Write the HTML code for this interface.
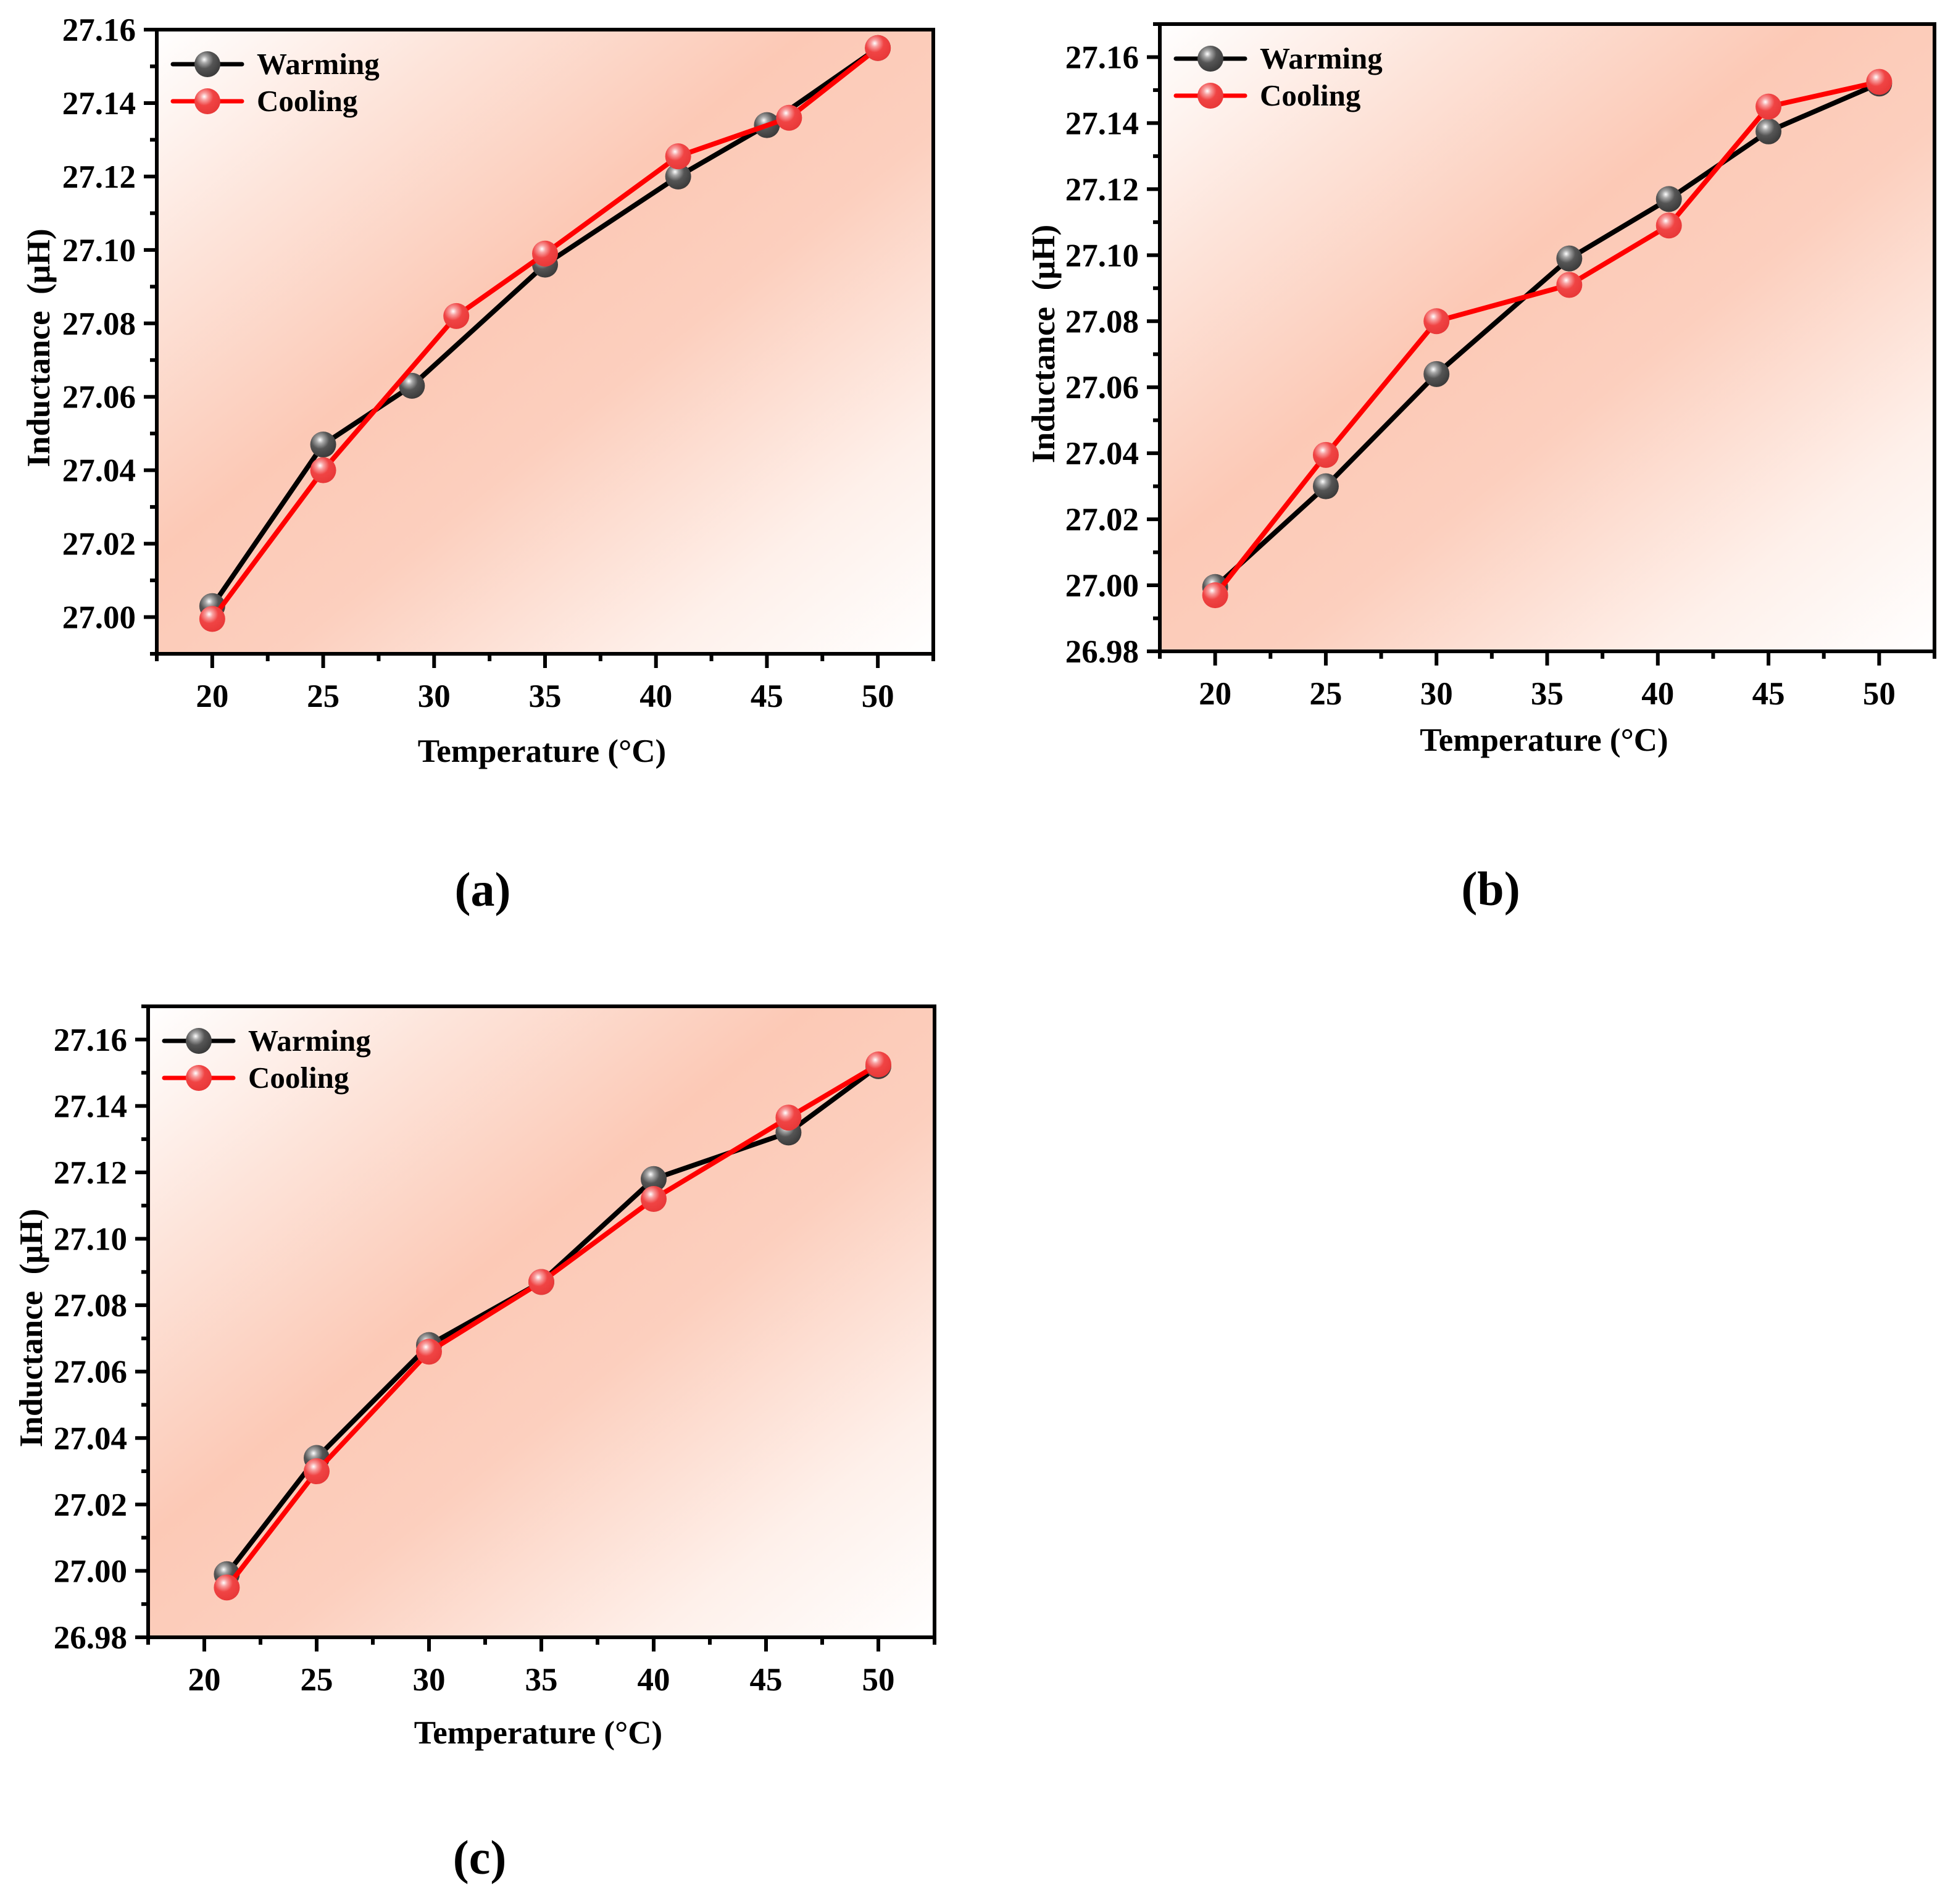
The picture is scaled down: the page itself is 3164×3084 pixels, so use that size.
<!DOCTYPE html>
<html>
<head>
<meta charset="utf-8">
<style>
  html,body{margin:0;padding:0;background:#fff;}
  svg{display:block;}
  text{font-family:"Liberation Serif","DejaVu Serif",serif;font-weight:bold;fill:#000;}
</style>
</head>
<body>
<svg id="fig" width="3164" height="3084" viewBox="0 0 3164 3084" xmlns="http://www.w3.org/2000/svg">
  <defs>
    <linearGradient id="bg" x1="0" y1="0" x2="1" y2="1">
      <stop offset="0" stop-color="#ffffff"/>
      <stop offset="0.2" stop-color="#fde4da"/>
      <stop offset="0.42" stop-color="#fcc9b6"/>
      <stop offset="0.58" stop-color="#fccfbe"/>
      <stop offset="0.82" stop-color="#fef0ea"/>
      <stop offset="1" stop-color="#ffffff"/>
    </linearGradient>
    <radialGradient id="gBlack" cx="0.38" cy="0.32" r="0.7">
      <stop offset="0" stop-color="#ffffff"/>
      <stop offset="0.2" stop-color="#a8a8a8"/>
      <stop offset="0.5" stop-color="#555555"/>
      <stop offset="1" stop-color="#3a3a3a"/>
    </radialGradient>
    <radialGradient id="gRed" cx="0.38" cy="0.32" r="0.7">
      <stop offset="0" stop-color="#ffffff"/>
      <stop offset="0.2" stop-color="#f8a0a0"/>
      <stop offset="0.5" stop-color="#f04444"/>
      <stop offset="1" stop-color="#e83838"/>
    </radialGradient>
  </defs>
</svg>
<script>
// ---- data (panel a) ----
const aWarmX = [20, 25, 29, 35, 41, 45, 50];
const aWarmY = [27.003, 27.047, 27.063, 27.096, 27.120, 27.134, 27.155];
const aCoolX = [20, 25, 31, 35, 41, 46, 50];
const aCoolY = [26.9995, 27.040, 27.082, 27.099, 27.1255, 27.136, 27.155];
// ---- data (panel b) ----
const bWarmX = [20, 25, 30, 36, 40.5, 45, 50];
const bWarmY = [26.9995, 27.030, 27.064, 27.099, 27.117, 27.1375, 27.152];
const bCoolX = [20, 25, 30, 36, 40.5, 45, 50];
const bCoolY = [26.997, 27.0395, 27.080, 27.091, 27.109, 27.145, 27.1525];
// ---- data (panel c) ----
const cWarmX = [21, 25, 30, 35, 40, 46, 50];
const cWarmY = [26.999, 27.034, 27.068, 27.087, 27.118, 27.132, 27.152];
const cCoolX = [21, 25, 30, 35, 40, 46, 50];
const cCoolY = [26.995, 27.030, 27.066, 27.087, 27.112, 27.1365, 27.1525];
// ---- ticks ----
const xTickVals = [20, 25, 30, 35, 40, 45, 50];
const yTickValsA = [27.00, 27.02, 27.04, 27.06, 27.08, 27.10, 27.12, 27.14, 27.16];
const yTickValsBC = [26.98, 27.00, 27.02, 27.04, 27.06, 27.08, 27.10, 27.12, 27.14, 27.16];
const xDomain = [17.5, 52.5];
const yDomainA = [26.99, 27.16];
const yDomainBC = [26.98, 27.17];
const seriesNames = ["Warming", "Cooling"];

const NS = "http://www.w3.org/2000/svg";
const svg = document.getElementById("fig");
function mk(tag, attrs, parent) {
  const e = document.createElementNS(NS, tag);
  for (const k in attrs) e.setAttribute(k, attrs[k]);
  (parent || svg).appendChild(e);
  return e;
}

const panels = [
  {id:"a", L:254, R:1512, T:48, B:1059, yd:yDomainA, yt:yTickValsA,
   wx:aWarmX, wy:aWarmY, cx:aCoolX, cy:aCoolY,
   titleY:1234, yTitleX:62, label:[782,1441]},
  {id:"b", L:1879, R:3134, T:39, B:1055, yd:yDomainBC, yt:yTickValsBC,
   wx:bWarmX, wy:bWarmY, cx:bCoolX, cy:bCoolY,
   titleY:1216, yTitleX:1690, label:[2415,1440]},
  {id:"c", L:240, R:1514, T:1630, B:2652, yd:yDomainBC, yt:yTickValsBC,
   wx:cWarmX, wy:cWarmY, cx:cCoolX, cy:cCoolY,
   titleY:2824, yTitleX:50, label:[777,3009]}
];

panels.forEach(p => {
  const g = mk("g", {});
  
  
  const xs = v => p.L + (v - xDomain[0]) / (xDomain[1] - xDomain[0]) * (p.R - p.L);
  const ys = v => p.B - (v - p.yd[0]) / (p.yd[1] - p.yd[0]) * (p.B - p.T);

  const bg = mk("rect", {x:p.L, y:p.T, width:p.R-p.L, height:p.B-p.T, fill:"url(#bg)"}, g);
  
  

  const yAxis = mk("g", {}, g);
  
  
  for (let v = p.yd[0]; v <= p.yd[1] + 1e-9; v += 0.01) {
    const y = ys(v);
    const isMajor = p.yt.some(t => Math.abs(t - v) < 1e-6);
    mk("line", {x1:p.L - (isMajor ? 21 : 11), x2:p.L, y1:y, y2:y, stroke:"#000", "stroke-width":6}, yAxis);
  }
  p.yt.forEach(v => {
    const t = mk("text", {x:p.L - 34, y:ys(v) + 18, "text-anchor":"end", "font-size":53}, yAxis);
    t.textContent = v.toFixed(2);
    
    
  });
  const xAxis = mk("g", {}, g);
  
  
  for (let v = xDomain[0]; v <= xDomain[1] + 1e-9; v += 2.5) {
    const x = xs(v);
    const isMajor = xTickVals.some(t => Math.abs(t - v) < 1e-6);
    mk("line", {x1:x, x2:x, y1:p.B, y2:p.B + (isMajor ? 23 : 12), stroke:"#000", "stroke-width":6}, xAxis);
  }
  xTickVals.forEach(v => {
    const t = mk("text", {x:xs(v), y:p.B + 86, "text-anchor":"middle", "font-size":53}, xAxis);
    t.textContent = String(v);
    
    
  });

  const fr = mk("rect", {x:p.L, y:p.T, width:p.R-p.L, height:p.B-p.T, fill:"none", stroke:"#000", "stroke-width":6}, g);
  
  

  const xt = mk("text", {x:(p.L+p.R)/2 - 5, y:p.titleY, "text-anchor":"middle", "font-size":53}, g);
  xt.textContent = "Temperature (\u00B0C)";
  
  
  const ymid = (p.T + p.B) / 2 + 10;
  const yt = mk("text", {x:p.yTitleX, y:ymid, "text-anchor":"middle", "font-size":53,
    transform:"rotate(-90 " + p.yTitleX + " " + ymid + ")", dy:18}, g);
  yt.textContent = "Inductance\u00A0\u00A0(\u03BCH)";
  
  

  const series = [
    {xv:p.wx, yv:p.wy, color:"#000", grad:"url(#gBlack)", name:"warming"},
    {xv:p.cx, yv:p.cy, color:"#ff0000", grad:"url(#gRed)", name:"cooling"}
  ];
  series.forEach(s => {
    const sg = mk("g", {}, g);
    
    
    const pts = s.xv.map((x, i) => xs(x) + "," + ys(s.yv[i])).join(" ");
    const pl = mk("polyline", {points:pts, fill:"none", stroke:s.color, "stroke-width":8, "stroke-linejoin":"round"}, sg);
    
    
    s.xv.forEach((x, i) => {
      const c = mk("circle", {cx:xs(x), cy:ys(s.yv[i]), r:21, fill:s.grad}, sg);
      
      
    });
  });

  const lg = mk("g", {}, g);
  
  
  [[0, "#000", "url(#gBlack)"], [1, "#ff0000", "url(#gRed)"]].forEach(([i, col, gr]) => {
    const y = p.T + 56 + i * 60;
    const x0 = p.L + 26;
    const e = mk("g", {}, lg);
    
    
    mk("line", {x1:x0, x2:x0 + 112, y1:y, y2:y, stroke:col, "stroke-width":7, "stroke-linecap":"round"}, e);
    mk("circle", {cx:x0 + 56, cy:y, r:21, fill:gr}, e);
    const t = mk("text", {x:x0 + 136, y:y + 16, "font-size":49}, e);
    t.textContent = seriesNames[i];
  });

  const pl = mk("text", {x:p.label[0], y:p.label[1] + 26, "text-anchor":"middle", "font-size":78, "font-weight":"normal"}, svg);
  pl.innerHTML = '(<tspan font-weight="bold">' + p.id + '</tspan>)';
  
  
});
</script>
</body>
</html>
